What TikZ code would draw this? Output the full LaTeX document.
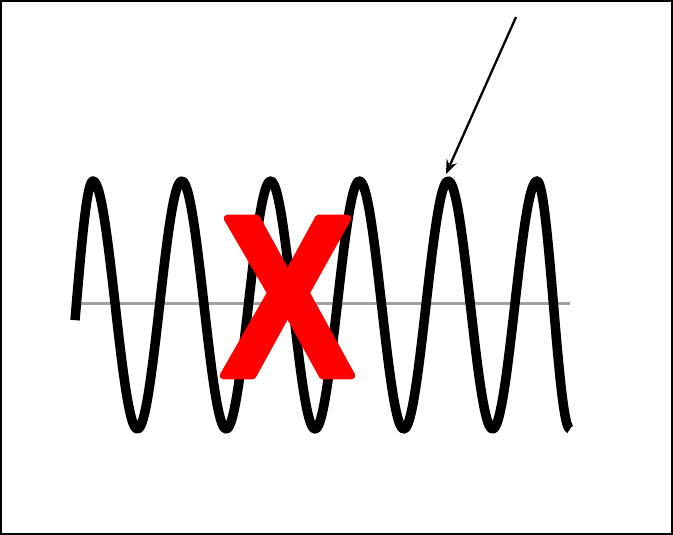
\documentclass[tikz,border=0pt]{standalone}
\usepackage{fontspec}
\usetikzlibrary{arrows.meta}
\newfontfamily\crossfont{Liberation Sans}
\begin{document}
\begin{tikzpicture}[>={Stealth[length=14pt,width=11pt]}, x=1pt, y=-1pt]
\useasboundingbox (0,0) rectangle (673,535);
\draw[line width=2pt] (1,1) rectangle (672,534);
\draw[line width=3pt, black!37] (75,303) -- (570,303);
\draw[line width=9.5pt, line join=round]
  plot[domain=75:93, samples=20, smooth] (\x, {305-124*sin(90+5.39*(\x-93))})
  -- plot[domain=93:537, samples=300, smooth] (\x, {305-124*sin(90+4.0541*(\x-93))})
  -- plot[domain=537:570, samples=30, smooth] (\x, {305-124*sin(90+5.4545*(\x-537))});
\node[text=red, inner sep=0pt, xscale=0.87, font=\crossfont\bfseries\fontsize{229}{232}\selectfont] (cross) at (287.5,297) {\special{pdf:literal direct 2 Tr 1 j 7 w}X\special{pdf:literal direct 0 Tr 0 j 1 w}};
\coordinate (tail) at (516,17);
\coordinate (peak) at (446,174);
\draw[->, line width=2.3pt] (tail) -- (peak);
\end{tikzpicture}
\end{document}
